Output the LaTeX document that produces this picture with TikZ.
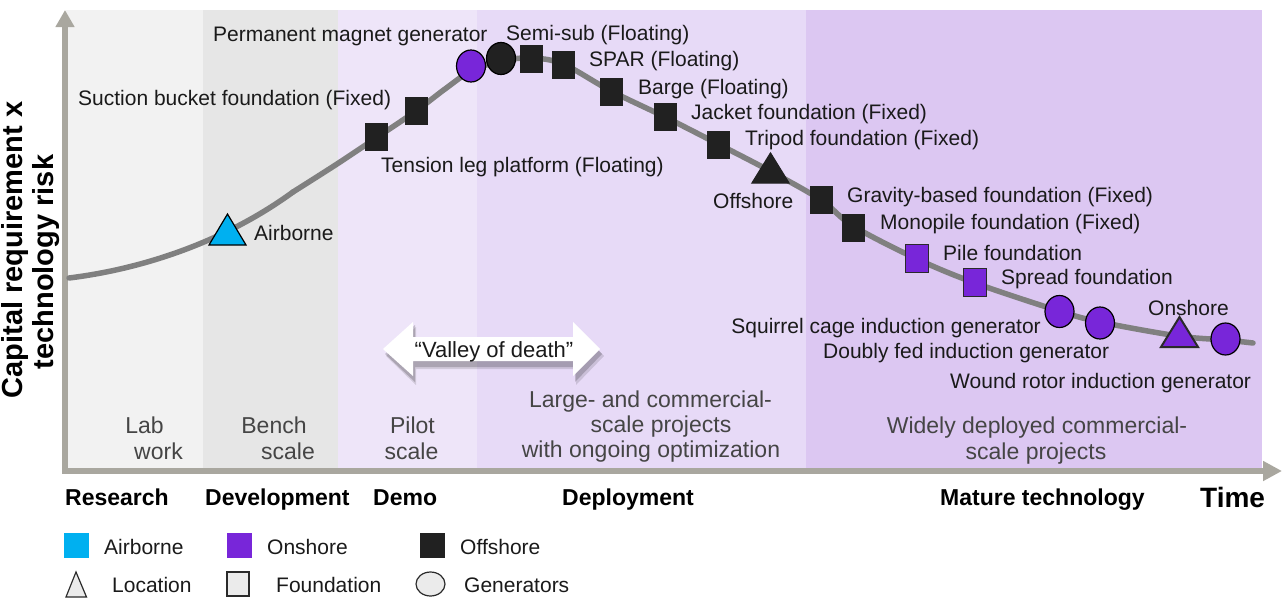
\documentclass[tikz,border=0pt]{standalone}
\usepackage{fontspec}
\setmainfont{Liberation Sans}
\usetikzlibrary{shapes.geometric,arrows.meta}
\definecolor{bandA}{HTML}{F2F2F2}
\definecolor{bandB}{HTML}{E6E6E6}
\definecolor{bandC}{HTML}{EEE5F9}
\definecolor{bandD}{HTML}{E7DAF7}
\definecolor{bandE}{HTML}{DCC7F2}
\definecolor{axisgray}{HTML}{A9A79F}
\definecolor{curvegray}{HTML}{808080}
\definecolor{offblack}{HTML}{212121}
\definecolor{onpurple}{HTML}{7826D9}
\definecolor{airblue}{HTML}{00B0F0}
\definecolor{txt}{HTML}{1A1A1A}
\definecolor{stagegray}{HTML}{454545}
\definecolor{legfill}{HTML}{EBEBEB}
\definecolor{edge}{HTML}{2A2A2A}
\tikzset{
  lbl/.style={font=\fontsize{21}{25}\selectfont, text=txt, inner sep=0pt, anchor=base west},
  stage/.style={font=\fontsize{23}{27}\selectfont, text=stagegray, inner sep=0pt, anchor=base},
  phase/.style={font=\bfseries\fontsize{23}{27}\selectfont, text=black, inner sep=0pt, anchor=base west},
  sqm/.style={rectangle, minimum width=23pt, minimum height=28pt, inner sep=0pt, fill=offblack},
  psq/.style={rectangle, minimum width=23pt, minimum height=28pt, inner sep=0pt, fill=onpurple, draw=edge, line width=1.8pt},
  gen/.style={ellipse, minimum width=29pt, minimum height=32pt, inner sep=0pt, draw=black, line width=1.2pt},
  tri/.style={draw=black, line width=1.2pt, line join=miter},
  axisline/.style={draw=axisgray, line width=6pt},
  curveline/.style={draw=curvegray, line width=5.5pt, line cap=round},
  legsq/.style={rectangle, minimum width=25pt, minimum height=25pt, inner sep=0pt},
  ylab/.style={font=\bfseries\fontsize{29}{33}\selectfont, rotate=90, inner sep=0pt, anchor=base},
}
\begin{document}
\begin{tikzpicture}[x=1pt,y=-1pt]
\useasboundingbox (0,0) rectangle (1283,605);
% bands
\fill[bandA] (66,10) rectangle (203,468);
\fill[bandB] (203,10) rectangle (338,468);
\fill[bandC] (338,10) rectangle (477,468);
\fill[bandD] (477,10) rectangle (806,468);
\fill[bandE] (806,10) rectangle (1262,468);
% axes
\coordinate (origin) at (65,471);
\coordinate (ytop) at (65,10);
\coordinate (xend) at (1282,471);
\draw[axisline, -{Triangle[length=17pt,width=18pt]}] (origin) -- (ytop);
\draw[axisline, -{Triangle[length=19pt,width=19pt]}] (62,471) -- (xend);
% curve
\draw[curveline] (69,278) .. controls (150,268) and (230,238) .. (293,192);
\draw[curveline] plot[smooth, tension=0.55] coordinates {
 (293,192) (337,164) (376,138)
 (416,111) (445,89) (471,71) (501,61) (531,58) (563,64)
 (611,91) (665,117) (718,144) (770,171) (821,200) (853,226) (917,259)
 (975,283) (1059,311) (1100,322) (1178,336) (1225,340) (1253,343)};
% markers
\draw[tri, fill=airblue] (209,245) -- (227.5,214) -- (246,245) -- cycle;
\draw[tri, fill=offblack, draw=offblack] (752,183) -- (770.5,153) -- (789,183) -- cycle;
\draw[tri, fill=onpurple, draw=edge, line width=2pt] (1161,347) -- (1179.5,317) -- (1198,347) -- cycle;
\node[sqm] (m-tlp) at (376,136.5) {};
\node[sqm] (m-sbf) at (416.5,111) {};
\node[gen, fill=onpurple] (m-pmg) at (471,66) {};
\node[gen, fill=offblack] (m-semi) at (501,58.5) {};
\node[sqm] (m-semisq) at (531.5,59) {};
\node[sqm] (m-spar) at (563.5,64.5) {};
\node[sqm] (m-barge) at (611.5,92) {};
\node[sqm] (m-jacket) at (665.5,116.5) {};
\node[sqm] (m-tripod) at (718.5,144.5) {};
\node[sqm] (m-gravity) at (821,199.5) {};
\node[sqm] (m-mono) at (853.5,228) {};
\node[psq] (m-pile) at (917,258.5) {};
\node[psq] (m-spread) at (975,282.5) {};
\node[gen, fill=onpurple] (m-squirrel) at (1059.5,311.5) {};
\node[gen, fill=onpurple] (m-doubly) at (1100,323) {};
\node[gen, fill=onpurple] (m-wound) at (1225.5,339) {};
% marker labels
\node[lbl] (l-pmg) at (213,41) {Permanent magnet generator};
\node[lbl] (l-semi) at (506,40) {Semi-sub (Floating)};
\node[lbl] (l-spar) at (589,66) {SPAR (Floating)};
\node[lbl] (l-barge) at (638,94) {Barge (Floating)};
\node[lbl] (l-jacket) at (691,119) {Jacket foundation (Fixed)};
\node[lbl] (l-tripod) at (745,145) {Tripod foundation (Fixed)};
\node[lbl] (l-offshore) at (713,208) {Offshore};
\node[lbl] (l-gravity) at (847,202) {Gravity-based foundation (Fixed)};
\node[lbl] (l-mono) at (880,229) {Monopile foundation (Fixed)};
\node[lbl] (l-pile) at (943,260) {Pile foundation};
\node[lbl] (l-spread) at (1001,284) {Spread foundation};
\node[lbl] (l-onshore) at (1148,315) {Onshore};
\node[lbl, anchor=base east] (l-squirrel) at (1041,333) {Squirrel cage induction generator};
\node[lbl] (l-doubly) at (823,358) {Doubly fed induction generator};
\node[lbl] (l-wound) at (950,388) {Wound rotor induction generator};
\node[lbl] (l-sbf) at (78,105) {Suction bucket foundation (Fixed)};
\node[lbl] (l-tlp) at (381,172) {Tension leg platform (Floating)};
\node[lbl] (l-air) at (254,240) {Airborne};
% valley of death arrow
\fill[black, opacity=0.12] (386,356) -- (416,327) -- (416,343) -- (576,343) -- (576,327) -- (604,356) -- (576,385) -- (576,369) -- (416,369) -- (416,385) -- cycle;
\fill[black, opacity=0.18] (385,354) -- (415,325) -- (415,341) -- (575,341) -- (575,325) -- (602,354) -- (575,382) -- (575,367) -- (415,367) -- (415,382) -- cycle;
\fill[white] (383,349) -- (413,322) -- (413,337) -- (573,337) -- (573,322) -- (600,349) -- (573,376) -- (573,361) -- (413,361) -- (413,376) -- cycle;
\node[font=\fontsize{22}{26}\selectfont, text=txt, inner sep=0pt, anchor=base] (valley) at (494,357) {“Valley of death”};
% stage labels
\node[stage] (s-lab) at (144.5,433) {Lab};
\node[stage] (s-work) at (158.5,459) {work};
\node[stage] (s-bench) at (274,433) {Bench};
\node[stage] (s-bscale) at (288,459) {scale};
\node[stage] (s-pilot) at (412.5,433) {Pilot};
\node[stage] (s-pscale) at (411.5,459) {scale};
\node[stage] (s-large1) at (650.5,407) {Large- and commercial-};
\node[stage] (s-large2) at (661,432) {scale projects};
\node[stage] (s-large3) at (651,457) {with ongoing optimization};
\node[stage] (s-wide1) at (1037,433) {Widely deployed commercial-};
\node[stage] (s-wide2) at (1036,459) {scale projects};
% phases
\node[phase] (p-research) at (65,505) {Research};
\node[phase] (p-dev) at (205,505) {Development};
\node[phase] (p-demo) at (373,505) {Demo};
\node[phase] (p-deploy) at (562,505) {Deployment};
\node[phase] (p-mature) at (940,505) {Mature technology};
\node[font=\bfseries\fontsize{28}{32}\selectfont, inner sep=0pt, anchor=base west] (p-time) at (1200,507) {Time};
% y label
\node[ylab] (ylab1) at (22,250) {Capital requirement x};
\node[ylab] (ylab2) at (53,262) {technology risk};
% legend
\node[legsq, fill=airblue] (k-air) at (76.5,545.5) {};
\node[lbl] (k-airt) at (104,554) {Airborne};
\node[legsq, fill=onpurple] (k-on) at (239.5,545.5) {};
\node[lbl] (k-ont) at (267,554) {Onshore};
\node[legsq, fill=offblack] (k-off) at (432.5,545.5) {};
\node[lbl] (k-offt) at (460,554) {Offshore};
\draw[fill=legfill, draw=edge, line width=1.2pt] (66,597) -- (76,572) -- (86.5,597) -- cycle;
\node[lbl] (k-loct) at (112,592) {Location};
\node[rectangle, minimum width=22pt, minimum height=24pt, inner sep=0pt, fill=legfill, draw=edge, line width=1.2pt] (k-found) at (238,584) {};
\node[lbl] (k-foundt) at (276,592) {Foundation};
\node[ellipse, minimum width=29pt, minimum height=24pt, inner sep=0pt, fill=legfill, draw=edge, line width=1.2pt] (k-gen) at (430.5,584) {};
\node[lbl] (k-gent) at (464,592) {Generators};
\end{tikzpicture}
\end{document}
